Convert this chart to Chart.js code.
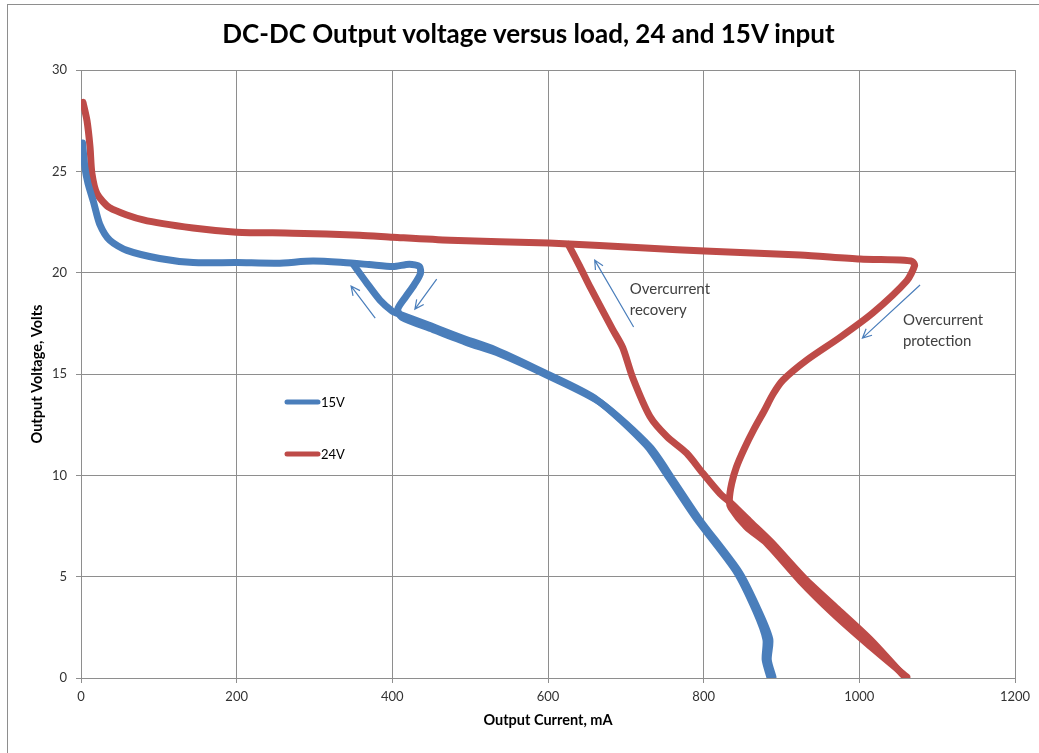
<!DOCTYPE html>
<html>
<head>
<meta charset="utf-8">
<title>DC-DC Output voltage versus load</title>
<script src="https://cdn.jsdelivr.net/npm/chart.js@4.4.0/dist/chart.umd.min.js"></script>
<style>
  html, body { margin: 0; padding: 0; background: #fff; overflow: hidden; }
  #wrap { position: relative; width: 1039px; height: 753px; overflow: hidden; }
  #frame { position: absolute; left: 7px; top: 4px; width: 1100px; height: 800px; border: 1px solid #8e8e8e; }
  #title { position: absolute; left: 0; top: 18px; width: 1057px; text-align: center;
           font: bold 26px Lato, sans-serif; line-height: 31px; color: #000; white-space: nowrap; }
  canvas { position: absolute; left: 0; top: 0; }
</style>
</head>
<body>
<div id="wrap">
  <div id="frame"></div>
  <canvas id="chart" width="1039" height="753"></canvas>
  <div id="title">DC-DC Output voltage versus load, 24 and 15V input</div>
</div>
<script>
// axis ticks
const currentTicks = [0, 200, 400, 600, 800, 1000, 1200];
const voltTicks = [0, 5, 10, 15, 20, 25, 30];

const seriesNames = ['15V', '24V'];
const seriesColors = ['#4a7ebb', '#be4b48'];

// 15V input: load rising until overcurrent, then folding back to 0 V
const load15 = [2, 5, 9, 16, 24, 37, 59, 101, 144, 200, 252, 298, 337, 370, 401, 422, 435, 436, 428, 417, 407, 412, 452, 496, 538, 601, 667, 731, 760, 795, 846, 872, 885, 883, 889];
const volts15 = [26.4, 25.2, 24.4, 23.5, 22.4, 21.6, 21.1, 20.7, 20.5, 20.5, 20.47, 20.57, 20.5, 20.4, 20.3, 20.42, 20.3, 19.95, 19.4, 18.8, 18.2, 17.8, 17.2, 16.55, 16.0, 14.9, 13.6, 11.4, 9.8, 7.8, 5.2, 3.2, 1.9, 0.9, 0.05];
// 15V input: recovery back up to the plateau
const load15Back = [885, 879, 880, 867, 841, 790, 755, 726, 662, 596, 532, 488, 444, 406, 400, 384, 367, 350];
const volts15Back = [0.05, 0.9, 1.9, 3.3, 5.3, 7.9, 9.9, 11.5, 13.75, 15.05, 16.2, 16.8, 17.45, 18.0, 18.1, 18.65, 19.5, 20.4];

// 24V input: load rising until overcurrent protection
const load24 = [2.6, 7.7, 11.6, 14, 20.5, 37, 80, 144, 200, 272, 358, 401, 474, 601, 731, 801, 924, 1001, 1052, 1068, 1071, 1061, 1017, 975, 933, 902, 889, 878, 865, 852, 842, 836, 833, 835, 855, 881, 924, 966, 1010, 1061];
const volts24 = [28.4, 27.5, 26.2, 24.9, 23.9, 23.2, 22.6, 22.2, 22.0, 21.95, 21.85, 21.75, 21.6, 21.46, 21.2, 21.07, 20.87, 20.67, 20.62, 20.55, 20.35, 19.6, 18.0, 16.8, 15.7, 14.7, 14.0, 13.2, 12.3, 11.3, 10.4, 9.6, 8.8, 8.4, 7.45, 6.65, 4.8, 3.2, 1.7, 0.05];
// 24V input: overcurrent recovery
const load24Back = [1056, 1014, 972, 930, 887, 860, 836, 821, 799, 778, 753, 731, 709, 696, 683, 654, 641, 626];
const volts24Back = [0.15, 1.9, 3.4, 4.9, 6.7, 7.7, 8.6, 9.1, 10.1, 11.1, 11.9, 12.9, 14.8, 16.3, 17.2, 19.3, 20.3, 21.4];

// annotation text (data units, baseline of first line) and arrows (tail -> head)
const notes = [
  { lines: ['Overcurrent', 'recovery'], x: 705, y: 18.94 },
  { lines: ['Overcurrent', 'protection'], x: 1056, y: 17.41 }
];
const arrows = [
  { from: [378, 17.76], to: [347, 19.34] },
  { from: [457, 19.68], to: [429, 18.2] },
  { from: [710, 17.32], to: [660, 20.62] },
  { from: [1078, 19.39], to: [1004, 16.77] }
];

const zip = (xs, ys) => xs.map((x, i) => ({ x: x, y: ys[i] }));

const lineStyle = (color) => ({
  showLine: true,
  borderColor: color,
  backgroundColor: color,
  borderWidth: 7,
  borderCapStyle: 'round',
  borderJoinStyle: 'round',
  pointRadius: 0,
  pointHoverRadius: 0,
  tension: 0.25,
  fill: false
});

const annotate = {
  id: 'annotate',
  afterDatasetsDraw(chart) {
    const { ctx, chartArea, scales } = chart;
    const sx = scales.x, sy = scales.y;
    ctx.save();

    // legend inside the plot
    seriesNames.forEach((name, i) => {
      const lx = chartArea.left + 206;
      const ly = chartArea.top + 332 + i * 52;
      ctx.strokeStyle = seriesColors[i];
      ctx.lineWidth = 5;
      ctx.lineCap = 'round';
      ctx.beginPath();
      ctx.moveTo(lx, ly);
      ctx.lineTo(lx + 31, ly);
      ctx.stroke();
      ctx.fillStyle = '#000';
      ctx.font = '13px Lato, sans-serif';
      ctx.textBaseline = 'middle';
      ctx.fillText(name, lx + 34, ly + 1);
    });

    // arrows
    ctx.strokeStyle = '#4a7ebb';
    ctx.lineWidth = 1.2;
    ctx.lineCap = 'butt';
    arrows.forEach(a => {
      const x1 = sx.getPixelForValue(a.from[0]), y1 = sy.getPixelForValue(a.from[1]);
      const x2 = sx.getPixelForValue(a.to[0]), y2 = sy.getPixelForValue(a.to[1]);
      const ang = Math.atan2(y2 - y1, x2 - x1);
      ctx.beginPath();
      ctx.moveTo(x1, y1);
      ctx.lineTo(x2, y2);
      ctx.moveTo(x2 - 10 * Math.cos(ang - 0.45), y2 - 10 * Math.sin(ang - 0.45));
      ctx.lineTo(x2, y2);
      ctx.lineTo(x2 - 10 * Math.cos(ang + 0.45), y2 - 10 * Math.sin(ang + 0.45));
      ctx.stroke();
    });

    // notes
    ctx.fillStyle = '#404040';
    ctx.font = '15px Lato, sans-serif';
    ctx.textBaseline = 'alphabetic';
    notes.forEach(n => {
      const px = sx.getPixelForValue(n.x), py = sy.getPixelForValue(n.y);
      n.lines.forEach((t, i) => ctx.fillText(t, px, py + i * 21));
    });
    ctx.restore();
  }
};

new Chart(document.getElementById('chart'), {
  type: 'scatter',
  data: {
    datasets: [
      Object.assign({ label: seriesNames[0], data: zip(load15, volts15) }, lineStyle(seriesColors[0])),
      Object.assign({ label: seriesNames[0] + ' recovery', data: zip(load15Back, volts15Back) }, lineStyle(seriesColors[0])),
      Object.assign({ label: seriesNames[1], data: zip(load24, volts24) }, lineStyle(seriesColors[1])),
      Object.assign({ label: seriesNames[1] + ' recovery', data: zip(load24Back, volts24Back) }, lineStyle(seriesColors[1]))
    ]
  },
  options: {
    responsive: false,
    animation: false,
    layout: { padding: { top: 70, right: 24, left: 0, bottom: 0 } },
    plugins: {
      legend: { display: false },
      title: { display: false },
      tooltip: { enabled: false }
    },
    scales: {
      x: {
        type: 'linear',
        min: currentTicks[0],
        max: currentTicks[currentTicks.length - 1],
        ticks: {
          stepSize: currentTicks[1] - currentTicks[0],
          color: '#333',
          font: { family: 'Lato', size: 13 },
          padding: 6,
          maxRotation: 0,
          callback: (v) => String(v)
        },
        grid: { color: '#8e8e8e', tickLength: 5 },
        border: { color: '#8e8e8e' },
        title: {
          display: true,
          text: 'Output Current, mA',
          color: '#000',
          font: { family: 'Lato', size: 14.5, weight: 'bold' },
          padding: { top: 0, bottom: 24 }
        },
        afterFit(scale) { scale.height = 75; }
      },
      y: {
        type: 'linear',
        min: voltTicks[0],
        max: voltTicks[voltTicks.length - 1],
        ticks: {
          stepSize: voltTicks[1] - voltTicks[0],
          color: '#333',
          font: { family: 'Lato', size: 13 },
          padding: 9,
          callback: (v) => String(v)
        },
        grid: { color: '#8e8e8e', tickLength: 5 },
        border: { color: '#8e8e8e' },
        title: {
          display: true,
          text: 'Output Voltage, Volts',
          color: '#000',
          font: { family: 'Lato', size: 14.5, weight: 'bold' },
          padding: { top: 29, bottom: 0 }
        },
        afterFit(scale) { scale.width = 81; }
      }
    }
  },
  plugins: [annotate]
});
</script>
</body>
</html>
